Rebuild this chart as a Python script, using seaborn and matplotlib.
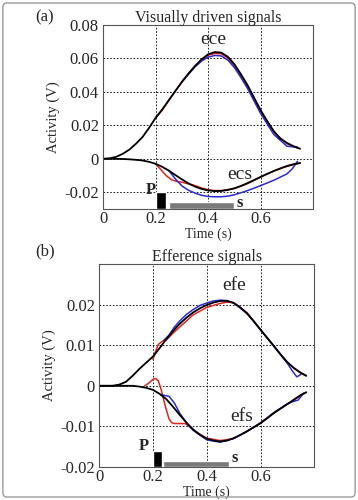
import matplotlib
matplotlib.use("Agg")
import matplotlib.pyplot as plt
import seaborn as sns
import pandas as pd
from matplotlib.patches import FancyBboxPatch

# panel (a): visually driven signals
ece_t = [0, 0.025, 0.05, 0.075, 0.1, 0.125, 0.15, 0.175, 0.2, 0.225, 0.25, 0.275, 0.3, 0.325, 0.35, 0.375,
         0.4, 0.425, 0.45, 0.475, 0.5, 0.525, 0.55, 0.575, 0.6, 0.625, 0.65, 0.675, 0.7, 0.725, 0.75]
ece_black = [0, 0.0003, 0.0012, 0.003, 0.0055, 0.009, 0.013, 0.0185, 0.0245, 0.0295, 0.035, 0.0405, 0.046, 0.051,
             0.0555, 0.0595, 0.0625, 0.0638, 0.0635, 0.061, 0.0565, 0.0505, 0.044, 0.0365, 0.029, 0.0225, 0.0165,
             0.012, 0.0095, 0.0075, 0.006]
ece_red_t = [0.2, 0.225, 0.25, 0.3, 0.35, 0.4, 0.425, 0.45, 0.475, 0.5, 0.525, 0.55, 0.6, 0.65, 0.7, 0.74]
ece_red = [0.0245, 0.029, 0.035, 0.046, 0.0555, 0.062, 0.063, 0.0628, 0.0602, 0.0555, 0.0495, 0.043, 0.028, 0.016, 0.009, 0.0065]
ece_blue_t = [0.3, 0.325, 0.35, 0.375, 0.4, 0.425, 0.45, 0.475, 0.5, 0.525, 0.55, 0.575, 0.6, 0.65, 0.7, 0.74]
ece_blue = [0.046, 0.0505, 0.055, 0.0585, 0.0608, 0.0618, 0.0615, 0.059, 0.0545, 0.0485, 0.042, 0.0345, 0.027, 0.0145, 0.0075, 0.007]

ecs_t = [0, 0.025, 0.05, 0.075, 0.1, 0.125, 0.15, 0.175, 0.2, 0.225, 0.25, 0.275, 0.3, 0.325, 0.35, 0.375,
         0.4, 0.425, 0.45, 0.475, 0.5, 0.525, 0.55, 0.575, 0.6, 0.625, 0.65, 0.675, 0.7, 0.725, 0.75]
ecs_black = [0, 0, 0, -0.0001, -0.0003, -0.0006, -0.001, -0.0018, -0.003, -0.0048, -0.007, -0.0097, -0.0123,
             -0.0147, -0.0166, -0.018, -0.0189, -0.0193, -0.0192, -0.0186, -0.0176, -0.0162, -0.0145, -0.0127,
             -0.0108, -0.009, -0.0073, -0.0057, -0.0043, -0.0032, -0.0025]
ecs_red_t = [0.2, 0.22, 0.24, 0.26, 0.28, 0.3, 0.325, 0.35, 0.375, 0.4, 0.425, 0.45, 0.5, 0.55, 0.6, 0.65, 0.7, 0.75]
ecs_red = [-0.003, -0.0065, -0.01, -0.0125, -0.0135, -0.014, -0.015, -0.016, -0.0175, -0.0185, -0.019, -0.019,
           -0.0178, -0.0148, -0.0108, -0.0072, -0.0045, -0.0025]
ecs_blue_t = [0.25, 0.275, 0.3, 0.325, 0.35, 0.375, 0.4, 0.425, 0.45, 0.475, 0.5, 0.55, 0.6, 0.65, 0.7, 0.72, 0.74]
ecs_blue = [-0.007, -0.012, -0.0162, -0.0188, -0.0205, -0.0218, -0.0225, -0.0227, -0.0227, -0.0223, -0.0215,
            -0.019, -0.016, -0.0128, -0.009, -0.006, -0.0015]

# panel (b): efference signals
efe_t = [0, 0.025, 0.05, 0.075, 0.1, 0.125, 0.15, 0.175, 0.2, 0.225, 0.25, 0.275, 0.3, 0.325, 0.35, 0.375,
         0.4, 0.425, 0.45, 0.475, 0.5, 0.525, 0.55, 0.575, 0.6, 0.625, 0.65, 0.675, 0.7, 0.725, 0.75, 0.77]
efe_black = [0, 0, 0, 0.0003, 0.001, 0.0025, 0.0042, 0.0057, 0.0072, 0.0093, 0.0115, 0.0135, 0.0153, 0.0168,
             0.0181, 0.0191, 0.0199, 0.0205, 0.0209, 0.0209, 0.0204, 0.0193, 0.0178, 0.0159, 0.0138, 0.0118,
             0.0098, 0.0077, 0.0058, 0.0043, 0.0032, 0.0025]
efe_red_t = [0.2, 0.21, 0.22, 0.235, 0.25, 0.275, 0.3, 0.35, 0.4, 0.45, 0.475, 0.5, 0.55, 0.6, 0.65, 0.7, 0.75, 0.77]
efe_red = [0.0065, 0.0085, 0.0102, 0.011, 0.0113, 0.013, 0.0145, 0.0175, 0.0193, 0.0203, 0.0206, 0.0205, 0.018,
           0.0138, 0.0097, 0.0057, 0.0031, 0.0024]
efe_blue_t = [0.24, 0.26, 0.28, 0.3, 0.325, 0.35, 0.375, 0.4, 0.425, 0.45, 0.475, 0.5, 0.55, 0.6, 0.65, 0.7,
              0.72, 0.735, 0.75]
efe_blue = [0.0112, 0.0125, 0.0145, 0.016, 0.0176, 0.0188, 0.0198, 0.0204, 0.0209, 0.0211, 0.021, 0.0204, 0.0178,
            0.0138, 0.0097, 0.0055, 0.0035, 0.0022, 0.0028]

efs_t = [0, 0.025, 0.05, 0.075, 0.1, 0.125, 0.15, 0.175, 0.2, 0.225, 0.25, 0.275, 0.3, 0.325, 0.35, 0.375,
         0.4, 0.425, 0.45, 0.475, 0.5, 0.525, 0.55, 0.575, 0.6, 0.625, 0.65, 0.675, 0.7, 0.725, 0.75, 0.77]
efs_black = [0, 0, 0, 0, 0, 0, -0.0002, -0.0005, -0.001, -0.002, -0.0033, -0.0052, -0.0072, -0.0091, -0.0108,
             -0.0121, -0.013, -0.0135, -0.0137, -0.0135, -0.0129, -0.0121, -0.0112, -0.0102, -0.0092, -0.008,
             -0.0067, -0.0056, -0.0045, -0.0034, -0.0023, -0.0016]
efs_red_t = [0.17, 0.185, 0.2, 0.21, 0.22, 0.23, 0.24, 0.25, 0.26, 0.27, 0.28, 0.3, 0.32, 0.34, 0.36, 0.4, 0.45,
             0.5, 0.55, 0.6, 0.65, 0.7, 0.75, 0.77]
efs_red = [0, 0.0007, 0.0016, 0.0018, 0.0012, -0.0008, -0.0035, -0.006, -0.0082, -0.0091, -0.0093, -0.0093,
           -0.0093, -0.0102, -0.0113, -0.0129, -0.0135, -0.013, -0.0112, -0.0091, -0.0066, -0.0045, -0.0022, -0.0016]
efs_blue_t = [0.23, 0.26, 0.28, 0.3, 0.33, 0.35, 0.4, 0.45, 0.5, 0.55, 0.6, 0.65, 0.7, 0.72, 0.74, 0.76]
efs_blue = [-0.0022, -0.0026, -0.0043, -0.0068, -0.0096, -0.011, -0.0133, -0.0139, -0.013, -0.0112, -0.0092,
            -0.0066, -0.0044, -0.0039, -0.0035, -0.0018]

RED = "#e3241c"
BLUE = "#2a2ad6"

sns.set_style("white")
plt.rcParams["font.family"] = ["Liberation Serif", "DejaVu Serif"]

fig = plt.figure(figsize=(3.58, 5.0), dpi=100)
fig.patches.append(FancyBboxPatch((0.008, 0.006), 0.984, 0.988, boxstyle="round,pad=0,rounding_size=0.01",
                                  transform=fig.transFigure, fill=False, ec="#9a9a9a", lw=1.0))

ax_a = fig.add_axes([0.288, 0.582, 0.587, 0.368])
ax_b = fig.add_axes([0.277, 0.066, 0.601, 0.406])


def draw(ax, t, y, color, lw):
    df = pd.DataFrame({"t": t, "y": y})
    sns.lineplot(data=df, x="t", y="y", ax=ax, color=color, lw=lw)


def style(ax, ylim, yticks, ylabels):
    ax.set_xlim(0, 0.8)
    ax.set_ylim(*ylim)
    ax.set_xticks([0, 0.2, 0.4, 0.6])
    ax.set_xticklabels(["0", "0.2", "0.4", "0.6"], fontsize=12)
    ax.set_yticks(yticks)
    ax.set_yticklabels(ylabels, fontsize=12)
    ax.grid(True, color="black", linestyle=(0, (2, 2)), lw=0.6)
    ax.tick_params(direction="in", length=3, pad=3)
    ax.tick_params(axis="x", pad=1.5)
    for sp in ax.spines.values():
        sp.set_color("#555555")
        sp.set_linewidth(0.8)
    ax.set_xlabel("Time (s)", fontsize=10, labelpad=0)
    ax.set_ylabel("Activity (V)", fontsize=10.5, labelpad=3)


# (a)
draw(ax_a, ece_red_t, ece_red, RED, 1.1)
draw(ax_a, ece_blue_t, ece_blue, BLUE, 1.1)
draw(ax_a, ece_t, ece_black, "black", 1.3)
draw(ax_a, ecs_red_t, ecs_red, RED, 1.1)
draw(ax_a, ecs_blue_t, ecs_blue, BLUE, 1.1)
draw(ax_a, ecs_t, ecs_black, "black", 1.3)
style(ax_a, (-0.03, 0.08), [-0.02, 0, 0.02, 0.04, 0.06, 0.08], ["-0.02", "0", "0.02", "0.04", "0.06", "0.08"])
ax_a.bar(0.22, 0.01, width=0.04, bottom=-0.03, color="black", zorder=3)
ax_a.bar(0.375, 0.004, width=0.25, bottom=-0.03, color="#7a7a7a", zorder=3)
ax_a.text(0.18, -0.0185, "P", fontsize=12, fontweight="bold", ha="center", va="center")
ax_a.text(0.52, -0.0265, "s", fontsize=12, fontweight="bold", ha="center", va="center")
ax_a.text(0.42, 0.0715, "ece", fontsize=14, ha="center", va="center")
ax_a.text(0.52, -0.0095, "ecs", fontsize=14, ha="center", va="center")
ax_a.set_title("Visually driven signals", fontsize=11.5, pad=2)
fig.text(0.125, 0.965, "(a)", fontsize=12, ha="center", va="center")

# (b)
draw(ax_b, efe_red_t, efe_red, RED, 1.1)
draw(ax_b, efe_blue_t, efe_blue, BLUE, 1.1)
draw(ax_b, efe_t, efe_black, "black", 1.3)
draw(ax_b, efs_red_t, efs_red, RED, 1.1)
draw(ax_b, efs_blue_t, efs_blue, BLUE, 1.1)
draw(ax_b, efs_t, efs_black, "black", 1.3)
style(ax_b, (-0.02, 0.03), [-0.02, -0.01, 0, 0.01, 0.02], ["-0.02", "-0.01", "0", "0.01", "0.02"])
ax_b.bar(0.2175, 0.004, width=0.035, bottom=-0.02, color="black", zorder=3)
ax_b.bar(0.36, 0.0015, width=0.245, bottom=-0.02, color="#7a7a7a", zorder=3)
ax_b.text(0.165, -0.0148, "P", fontsize=12, fontweight="bold", ha="center", va="center")
ax_b.text(0.505, -0.0178, "s", fontsize=12, fontweight="bold", ha="center", va="center")
ax_b.text(0.5, 0.0248, "efe", fontsize=14, ha="center", va="center")
ax_b.text(0.53, -0.0075, "efs", fontsize=14, ha="center", va="center")
ax_b.set_title("Efference signals", fontsize=11.5, pad=2)
fig.text(0.125, 0.497, "(b)", fontsize=12, ha="center", va="center")

fig.savefig("out.png", dpi=100)
